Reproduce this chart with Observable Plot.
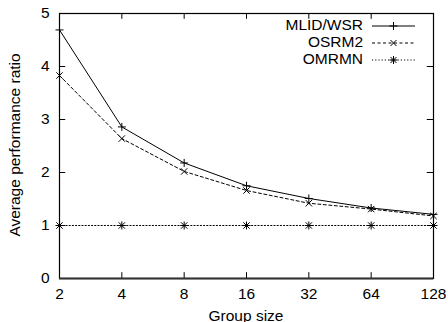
<!DOCTYPE html>
<html>
<head>
<meta charset="utf-8">
<script src="https://cdn.jsdelivr.net/npm/d3@7"></script>
<script src="https://cdn.jsdelivr.net/npm/@observablehq/plot@0.6"></script>
<style>
  html, body { margin: 0; padding: 0; background: #fff; }
  #chart { width: 448px; height: 322px; overflow: hidden; }
</style>
</head>
<body>
<div id="chart"></div>
<script>
const groupSizes = [2, 4, 8, 16, 32, 64, 128];
const mlidWsr = [4.69, 2.86, 2.18, 1.75, 1.51, 1.33, 1.21];
const osrm2   = [3.83, 2.64, 2.02, 1.66, 1.42, 1.31, 1.18];
const omrmn   = [1.0, 1.0, 1.0, 1.0, 1.0, 1.0, 1.0];
const seriesNames = ["MLID/WSR", "OSRM2", "OMRMN"];
const xTicks = [2, 4, 8, 16, 32, 64, 128];
const yTicks = [0, 1, 2, 3, 4, 5];

const toRows = (vals, name) => groupSizes.map((g, i) => ({g, v: vals[i], name}));
const rowsA = toRows(mlidWsr, seriesNames[0]);
const rowsB = toRows(osrm2, seriesNames[1]);
const rowsC = toRows(omrmn, seriesNames[2]);

const font = "'Liberation Sans', Arial, Helvetica, sans-serif";
const fs = 15.5;
const tickLenX = 0.1; // in doublings (log2 units)

const plot = Plot.plot({
  width: 448,
  height: 322,
  marginLeft: 59,
  marginRight: 15,
  marginTop: 13,
  marginBottom: 44,
  style: {fontFamily: font, fontSize: fs + "px", color: "#000", background: "#fff"},
  x: {type: "log", base: 2, domain: [2, 128], ticks: xTicks, tickFormat: d => String(d)},
  y: {domain: [0, 5], ticks: yTicks, tickFormat: d => String(d)},
  marks: [
    Plot.axisX(xTicks, {tickSize: 0, tickPadding: 9, fontSize: fs, label: null, tickFormat: d => String(d)}),
    Plot.axisY(yTicks, {tickSize: 0, tickPadding: 10, fontSize: fs, label: null, tickFormat: d => String(d)}),
    // inward ticks (mirrored)
    Plot.ruleX(xTicks, {x: d => d, y1: 0, y2: 0.11, stroke: "#000"}),
    Plot.ruleX(xTicks, {x: d => d, y1: 5, y2: 4.89, stroke: "#000"}),
    Plot.ruleY(yTicks, {y: d => d, x1: 2, x2: 2 * Math.pow(2, tickLenX), stroke: "#000"}),
    Plot.ruleY(yTicks, {y: d => d, x1: 128 / Math.pow(2, tickLenX), x2: 128, stroke: "#000"}),
    Plot.frame({stroke: "#000", strokeWidth: 1.2}),
    Plot.ruleY([0], {stroke: "#333", strokeWidth: 2}),
    // series
    Plot.line(rowsA, {x: "g", y: "v", stroke: "#000", strokeWidth: 1}),
    Plot.line(rowsB, {x: "g", y: "v", stroke: "#000", strokeWidth: 1, strokeDasharray: "3,2.5"}),
    Plot.line(rowsC, {x: "g", y: "v", stroke: "#000", strokeWidth: 1, strokeDasharray: "1.2,2"}),
    Plot.dot(rowsA, {x: "g", y: "v", symbol: "plus", r: 2.7, stroke: "#000", strokeWidth: 1}),
    Plot.dot(rowsB, {x: "g", y: "v", symbol: "times", r: 3, stroke: "#000", strokeWidth: 1}),
    Plot.dot(rowsC, {x: "g", y: "v", symbol: "plus", r: 2.7, stroke: "#000", strokeWidth: 1}),
    Plot.dot(rowsC, {x: "g", y: "v", symbol: "times", r: 3, stroke: "#000", strokeWidth: 1})
  ]
});

const svg = d3.select(plot);
// axis titles
svg.append("text")
  .attr("transform", "translate(16,145) rotate(-90)")
  .attr("text-anchor", "middle")
  .attr("dominant-baseline", "middle")
  .attr("font-family", font).attr("font-size", fs)
  .text("Average performance ratio");
svg.append("text")
  .attr("x", 246).attr("y", 317)
  .attr("text-anchor", "middle")
  .attr("dominant-baseline", "middle")
  .attr("font-family", font).attr("font-size", fs)
  .text("Group size");

// legend
const dashes = [null, "3,2.5", "1.2,2"];
const legend = svg.append("g");
seriesNames.forEach((name, i) => {
  const y = 26 + i * 17;
  legend.append("text")
    .attr("x", 363).attr("y", y)
    .attr("text-anchor", "end")
    .attr("dominant-baseline", "middle")
    .attr("font-family", font).attr("font-size", fs)
    .text(name);
  legend.append("line")
    .attr("x1", 372).attr("x2", 415).attr("y1", y).attr("y2", y)
    .attr("stroke", "#000").attr("stroke-width", 1)
    .attr("stroke-dasharray", dashes[i]);
  const cx = 393.5;
  if (i === 0 || i === 2) {
    legend.append("path").attr("d", `M${cx-4},${y}H${cx+4}M${cx},${y-4}V${y+4}`).attr("stroke", "#000");
  }
  if (i === 1 || i === 2) {
    legend.append("path").attr("d", `M${cx-3},${y-3}L${cx+3},${y+3}M${cx-3},${y+3}L${cx+3},${y-3}`).attr("stroke", "#000");
  }
});

document.getElementById("chart").appendChild(plot);
</script>
</body>
</html>
